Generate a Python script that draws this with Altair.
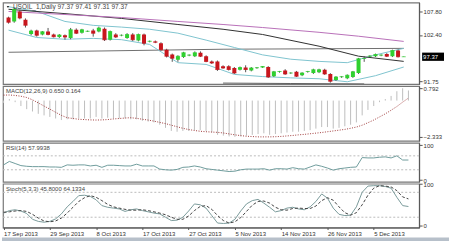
import altair as alt
import pandas as pd

# ---- daily candles, bar 0 = 17 Sep 2013 ----
opens = [106.4, 105.5, 107.8, 105.9, 102.6, 103.4, 102.5, 103.2, 102.5, 101.9,
         102.3, 101.7, 103.6, 102.9, 103.2, 103.4, 103.2, 103.8, 101.3, 102.5,
         102.3, 101.7, 102.5, 101.1, 102.5, 100.9, 100.9, 100.5, 99.0, 97.9,
         96.7, 97.3, 97.7, 97.5, 98.3, 97.5, 96.3, 96.3, 95.2, 95.2,
         94.8, 94.4, 94.9, 94.2, 94.8, 94.9, 95.0, 92.9, 93.9, 94.2,
         93.6, 93.9, 93.1, 93.9, 93.6, 93.8, 94.4, 93.4, 92.0, 92.7,
         92.4, 92.7, 93.6, 96.9, 97.5, 97.5, 97.7, 98.0, 97.5, 98.8,
         97.37]
closes = [105.3, 108.3, 106.3, 104.6, 103.3, 102.3, 103.1, 102.5, 102.0, 102.4,
          101.9, 103.6, 102.8, 103.6, 103.25, 102.8, 104.0, 101.3, 103.2, 101.9,
          102.35, 102.5, 101.3, 102.5, 100.5, 100.95, 100.7, 99.0, 97.5, 97.0,
          97.5, 98.3, 97.75, 98.3, 97.5, 96.3, 95.9, 94.4, 94.8, 94.4,
          93.6, 94.9, 94.4, 94.8, 94.85, 95.1, 92.7, 93.9, 93.95, 93.4,
          93.65, 92.9, 93.6, 93.95, 94.4, 94.4, 93.4, 91.75, 92.7, 92.75,
          93.1, 93.9, 96.9, 96.95, 97.55, 97.9, 97.75, 97.5, 98.8, 97.37,
          97.37]
highs = [106.6, 108.7, 108.2, 106.2, 103.6, 103.6, 103.3, 104.0, 102.7, 102.6,
         102.5, 104.0, 103.9, 103.8, 103.4, 103.8, 104.3, 104.1, 103.4, 102.8,
         102.5, 102.8, 102.8, 102.7, 102.7, 101.1, 101.1, 100.7, 99.2, 98.1,
         97.7, 98.5, 97.9, 98.6, 98.6, 97.7, 96.5, 96.5, 95.4, 95.4,
         95.0, 95.1, 95.4, 95.0, 95.0, 95.2, 95.2, 94.1, 94.1, 94.5,
         93.8, 94.1, 93.8, 94.1, 94.6, 94.6, 94.6, 93.6, 92.9, 92.9,
         93.3, 94.1, 97.1, 97.5, 97.7, 98.1, 97.9, 98.2, 99.0, 99.0,
         97.41]
lows = [105.0, 105.2, 106.0, 104.1, 102.3, 102.0, 102.3, 102.3, 101.8, 101.7,
        101.3, 101.4, 102.6, 102.7, 103.1, 102.0, 103.0, 101.0, 101.1, 101.7,
        102.1, 101.5, 101.0, 100.9, 100.0, 100.7, 100.5, 98.8, 97.2, 96.2,
        96.2, 97.1, 97.5, 97.3, 97.3, 96.1, 95.7, 94.1, 94.6, 94.2,
        93.4, 94.2, 93.8, 94.0, 94.6, 94.8, 92.5, 92.7, 93.7, 93.2,
        93.4, 92.7, 92.9, 93.7, 93.4, 93.6, 93.2, 91.4, 91.8, 92.5,
        92.2, 92.5, 93.4, 96.2, 97.3, 97.3, 97.5, 97.3, 97.3, 97.2,
        97.31]

# ---- moving averages and bands on the price panel (bar index, price) ----
ma_slow_i = [0, 10, 20, 30, 38, 45, 55, 62, 70]
ma_slow_v = [107.8, 107.1, 106.4, 105.5, 104.8, 104.1, 103.0, 102.1, 100.9]
ma_mid_i = [0, 10, 20, 30, 38, 45, 55, 62, 70]
ma_mid_v = [108.3, 107.3, 106.2, 104.8, 103.7, 102.5, 99.8, 97.5, 96.3]
ma_long_i = [0, 38, 70]
ma_long_v = [98.4, 99.1, 99.3]
ma_base_i = [38, 50, 63]
ma_base_v = [91.3, 91.2, 91.1]
bb_up_i = [0, 5, 10, 15, 20, 25, 30, 35, 40, 45, 50, 55, 60, 65, 70]
bb_up_v = [108.9, 107.8, 105.5, 104.6, 104.2, 103.7, 102.8, 101.2, 99.5, 97.8, 96.8, 96.3, 96.0, 97.8, 99.3]
bb_lo_i = [0, 5, 10, 15, 20, 25, 30, 35, 40, 45, 50, 55, 60, 65, 70]
bb_lo_v = [103.5, 101.8, 101.4, 101.6, 101.3, 100.2, 96.0, 95.6, 93.3, 92.8, 92.5, 92.3, 91.6, 93.0, 95.0]

# ---- MACD(12,26,9) ----
macd = [-0.15, 0.10, -0.10, -0.35, -0.55, -0.70, -0.85, -0.95, -1.05, -1.15,
        -1.25, -1.20, -1.20, -1.15, -1.15, -1.15, -1.05, -1.15, -1.10, -1.15,
        -1.15, -1.15, -1.20, -1.20, -1.30, -1.35, -1.40, -1.55, -1.75, -1.95,
        -2.00, -1.95, -1.95, -1.90, -1.90, -1.95, -2.05, -2.20, -2.25, -2.30,
        -2.33, -2.30, -2.25, -2.20, -2.15, -2.10, -2.20, -2.15, -2.10, -2.05,
        -2.00, -2.00, -1.95, -1.90, -1.80, -1.70, -1.70, -1.80, -1.75, -1.65,
        -1.55, -1.40, -0.95, -0.60, -0.35, -0.10, 0.10, 0.30, 0.60, 0.792,
        0.650]
signal = [0.35, 0.36, 0.33, 0.28, 0.20, 0.05, -0.15, -0.35, -0.55, -0.75,
          -0.95, -1.10, -1.15, -1.20, -1.22, -1.24, -1.25, -1.24, -1.22, -1.18,
          -1.15, -1.12, -1.10, -1.14, -1.20, -1.25, -1.32, -1.40, -1.48, -1.58,
          -1.68, -1.78, -1.86, -1.92, -1.97, -2.00, -2.02, -2.04, -2.08, -2.14,
          -2.20, -2.25, -2.29, -2.31, -2.33, -2.33, -2.33, -2.32, -2.30, -2.27,
          -2.24, -2.20, -2.17, -2.13, -2.09, -2.05, -2.00, -1.95, -1.90, -1.85,
          -1.78, -1.70, -1.58, -1.42, -1.25, -1.05, -0.85, -0.62, -0.38, -0.10,
          0.164]

# ---- RSI(14) ----
rsi = [44, 54, 48, 42, 40, 39, 39, 39, 38, 38,
       37, 44, 43, 44, 44, 41, 43, 37, 43, 43,
       42, 41, 41, 46, 41, 41, 41, 32, 30, 29,
       31, 37, 38, 41, 38, 33, 31, 29, 27, 25,
       26, 30, 32, 32, 32, 33, 29, 33, 33, 32,
       36, 33, 32, 38, 44, 40, 35, 29, 33, 35,
       37, 38, 65, 64, 64, 66, 67, 64, 70, 58,
       57.9938]

# ---- Stochastic(5,3,3) ----
stoch_k = [30, 36, 38, 35, 29, 15, 10, 8, 10, 16,
           28, 45, 58, 72, 73, 70, 62, 48, 44, 42,
           40, 34, 38, 40, 36, 33, 30, 28, 20, 12,
           13, 20, 35, 52, 50, 42, 24, 6, 5, 6,
           15, 35, 52, 60, 63, 54, 44, 33, 36, 42,
           44, 40, 38, 45, 58, 76, 66, 42, 27, 24,
           25, 45, 80, 95, 96, 96, 94, 90, 68, 48,
           45.8]
stoch_d = [32, 33, 35, 36, 34, 27, 18, 11, 9, 11,
           18, 30, 44, 58, 67, 72, 68, 60, 51, 45,
           42, 39, 37, 37, 38, 36, 33, 30, 26, 20,
           15, 15, 23, 36, 46, 48, 39, 24, 12, 6,
           9, 19, 34, 49, 58, 59, 54, 44, 38, 37,
           41, 42, 41, 41, 47, 60, 67, 61, 45, 31,
           25, 31, 50, 73, 90, 96, 95, 93, 84, 69,
           64.1334]

# ---- time axis labels ----
tick_idx = [0, 8, 16, 24, 32, 40, 48, 56, 64]
tick_txt = ["17 Sep 2013", "29 Sep 2013", "8 Oct 2013", "17 Oct 2013", "27 Oct 2013",
            "5 Nov 2013", "14 Nov 2013", "26 Nov 2013", "5 Dec 2013"]

price_ticks = [107.80, 102.40, 91.75]
macd_ticks = [0.792, 0.0, -2.333]
rsi_levels = [70, 30]
rsi_ticks = [100, 70, 30, 0]
stoch_levels = [80, 20]
stoch_ticks = [100, 80, 20, 0]

W = 418
FONT = "Liberation Sans"
UP, DOWN, WICK = "#2fd02f", "#c8161d", "#555555"
X_DOM = [-0.1, 71.85]

n = len(closes)
bars = pd.DataFrame({"i": list(range(n)), "open": opens, "high": highs,
                     "low": lows, "close": closes})
ind = pd.DataFrame({"i": list(range(n)), "macd": macd, "signal": signal,
                    "rsi": rsi, "k": stoch_k, "d": stoch_d})


def xq(axis=None):
    return alt.X("i:Q", scale=alt.Scale(domain=X_DOM, nice=False, zero=False), axis=axis)


def right_axis(values, fmt_expr=None):
    kw = dict(orient="right", values=values, grid=False, title=None, labelFlush=False,
              labelOverlap=False, tickSize=3, labelPadding=1, labelFontSize=6,
              labelFont=FONT, labelColor="#333", domainColor="#555", tickColor="#555")
    if fmt_expr:
        kw["labelExpr"] = fmt_expr
    return alt.Axis(**kw)


def label(text, x=3, y=5, size=6):
    return alt.Chart(pd.DataFrame({"t": [text]})).mark_text(
        font=FONT, fontSize=size, color="#444", align="left", baseline="middle"
    ).encode(x=alt.value(x), y=alt.value(y), text="t:N")


# ---------------- price panel ----------------
pscale = alt.Scale(domain=[91.05, 109.86], nice=False, zero=False)

base = alt.Chart(bars)
wick = base.mark_rule(color=WICK, strokeWidth=1, clip=True).encode(
    x=xq(), y=alt.Y("low:Q", scale=pscale, axis=right_axis(price_ticks, "format(datum.value, '.2f')")),
    y2="high:Q")


def candles(cond, colour):
    part = base.transform_filter(cond)
    body = part.mark_bar(size=4, color=colour, clip=True).encode(
        x=xq(), y=alt.Y("open:Q", scale=pscale), y2="close:Q")
    dash = part.mark_tick(orient="horizontal", size=4, thickness=1, color=colour, clip=True).encode(
        x=xq(), y=alt.Y("close:Q", scale=pscale))
    return body + dash


up_c = candles("datum.close >= datum.open", UP)
dn_c = candles("datum.close < datum.open", DOWN)


def price_line(idx, vals, colour, width=1):
    return alt.Chart(pd.DataFrame({"i": idx, "v": vals})).mark_line(
        color=colour, strokeWidth=width, clip=True).encode(x=xq(), y=alt.Y("v:Q", scale=pscale))


ma_layers = [
    price_line(ma_long_i, ma_long_v, "#707070"),
    price_line(ma_base_i, ma_base_v, "#606060"),
    price_line(bb_up_i, bb_up_v, "#7fc4cf"),
    price_line(bb_lo_i, bb_lo_v, "#7fc4cf"),
    price_line(ma_mid_i, ma_mid_v, "#303030"),
    price_line(ma_slow_i, ma_slow_v, "#b870b8"),
]

last = pd.DataFrame({"close": [closes[-1]]})
last["top"] = last["close"] + 0.95
last["bot"] = last["close"] - 0.95
tag_box = alt.Chart(last).mark_rect(color="#000").encode(
    x=alt.value(W + 3), x2=alt.value(W + 25), y=alt.Y("top:Q", scale=pscale), y2="bot:Q")
tag_txt = alt.Chart(last).mark_text(color="#fff", font=FONT, fontSize=6, align="left", baseline="middle").encode(
    x=alt.value(W + 4), y=alt.Y("close:Q", scale=pscale), text=alt.Text("close:Q", format=".2f"))

head = "USOIL_1,Daily  %.2f %.2f %.2f %.2f" % (opens[-1], highs[-1], lows[-1], closes[-1])
tri = alt.Chart(pd.DataFrame({"t": [0]})).mark_point(
    shape="triangle-down", filled=True, size=6, color="#222", opacity=1).encode(
    x=alt.value(5), y=alt.value(4.5))

price_panel = alt.layer(*ma_layers, wick, up_c, dn_c, tag_box, tag_txt,
                        label(head, x=10, y=5, size=6.5), tri).properties(width=W, height=82)

# ---------------- MACD panel ----------------
mscale = alt.Scale(domain=[-2.59, 0.927], nice=False, zero=False)
mbase = alt.Chart(ind)
hist = mbase.mark_rule(color="#bdbdbd", strokeWidth=1, clip=True).encode(
    x=xq(), y=alt.Y("macd:Q", scale=mscale,
                    axis=right_axis(macd_ticks, "datum.value == 0 ? '0.00' : format(datum.value, '.3f')")),
    y2=alt.datum(0))
sig = mbase.mark_line(color="#a03c3c", strokeWidth=1, strokeDash=[1, 1.5], clip=True).encode(
    x=xq(), y=alt.Y("signal:Q", scale=mscale))
mlab = "MACD(12,26,9) %.3f %.3f" % (macd[-1], signal[-1])
macd_panel = alt.layer(hist, sig, label(mlab)).properties(width=W, height=55)

# ---------------- RSI panel ----------------
rscale = alt.Scale(domain=[-4.3, 107.1], nice=False, zero=False)
rlev = alt.Chart(pd.DataFrame({"v": rsi_levels})).mark_rule(color="#bbb", strokeDash=[2, 2], strokeWidth=1).encode(
    y=alt.Y("v:Q", scale=rscale, axis=right_axis(rsi_ticks)))
rline = mbase.mark_line(color="#6f9c9c", strokeWidth=1, clip=True).encode(
    x=xq(), y=alt.Y("rsi:Q", scale=rscale))
rsi_panel = alt.layer(rlev, rline, label("RSI(14) %.4f" % rsi[-1])).properties(width=W, height=39)

# ---------------- Stochastic panel (carries the time axis) ----------------
sscale = alt.Scale(domain=[-4.8, 100.7], nice=False, zero=False)
label_expr = "%s[indexof(%s, datum.value)]" % (
    "[" + ",".join("'%s'" % t for t in tick_txt) + "]",
    "[" + ",".join(str(v) for v in tick_idx) + "]")
x_time = alt.X("i:Q", scale=alt.Scale(domain=X_DOM, nice=False, zero=False),
               axis=alt.Axis(values=tick_idx, labelExpr=label_expr, title=None, grid=False,
                             labelAlign="left", labelBaseline="top", labelFontSize=6, labelFont=FONT,
                             labelColor="#333", tickSize=2, labelPadding=1, labelFlush=False,
                             labelOverlap=False, domainColor="#555", tickColor="#555", zindex=2))
slev = alt.Chart(pd.DataFrame({"v": stoch_levels})).mark_rule(color="#bbb", strokeDash=[2, 2], strokeWidth=1).encode(
    y=alt.Y("v:Q", scale=sscale, axis=right_axis(stoch_ticks)))
kline = mbase.mark_line(color="#7a9a9a", strokeWidth=1, clip=True).encode(
    x=x_time, y=alt.Y("k:Q", scale=sscale))
dline = mbase.mark_line(color="#444", strokeWidth=1, strokeDash=[3, 2], clip=True).encode(
    x=x_time, y=alt.Y("d:Q", scale=sscale))
slab = "Stoch(5,3,3) %.4f %.4f" % (stoch_k[-1], stoch_d[-1])
# window frame strip under the time axis
frame = alt.Chart(pd.DataFrame({"t": [0]})).mark_rect(color="#b7c0ca").encode(
    x=alt.value(-1), x2=alt.value(W + 30), y=alt.value(54), y2=alt.value(58))
stoch_panel = alt.layer(frame, slev, kline, dline, label(slab)).properties(width=W, height=44)

chart = alt.vconcat(price_panel, macd_panel, rsi_panel, stoch_panel, spacing=2, bounds="flush").properties(
    padding={"left": 1, "top": 1, "right": 0, "bottom": 0}, background="white"
).configure_view(stroke="#777", strokeWidth=1.2)

chart.save("out.html", embed_options={"renderer": "svg", "actions": False})
